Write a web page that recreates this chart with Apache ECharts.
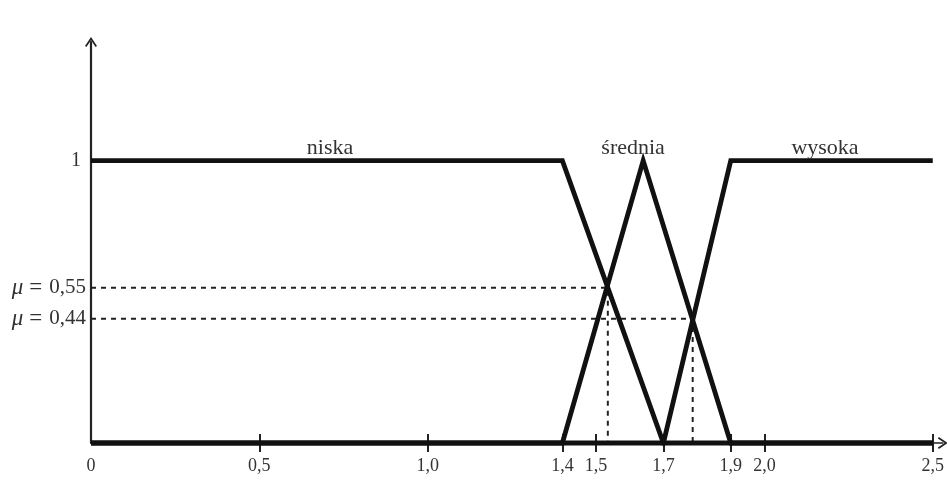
<!DOCTYPE html>
<html>
<head>
    <meta charset="utf-8">
    <title>Funkcje przynależności</title>
    <script src="https://cdn.jsdelivr.net/npm/echarts@6/dist/echarts.min.js"></script>
    <style>
        html, body { margin: 0; padding: 0; background: #fff; }
        #main { width: 947px; height: 481px; }
    </style>
</head>
<body>
<div id="main"></div>
<script type="text/javascript">
    // funkcje przynależności (x, mu)
    var niska = [[0, 1], [1.4, 1], [1.7, 0], [2.5, 0]];
    var srednia = [[0, 0], [1.4, 0], [1.64, 1], [1.9, 0], [2.5, 0]];
    var wysoka = [[0, 0], [1.7, 0], [1.9, 1], [2.5, 1]];

    // odczyty mu
    var cut055 = [[0, 0.55], [1.535, 0.55], [1.535, 0]];
    var cut044 = [[0, 0.44], [1.787, 0.44], [1.787, 0]];

    var xTicks = [0, 0.5, 1.0, 1.4, 1.5, 1.7, 1.9, 2.0, 2.5];
    var xTickMarks = [0.5, 1.0, 1.4, 1.5, 1.7, 1.9, 2.0, 2.5];
    var yTicks = [1, 0.55, 0.44];

    var setNames = ['niska', 'średnia', 'wysoka'];
    var setNameX = [0.71, 1.61, 2.18];

    var txt = '#333';
    var font = '"Liberation Serif", "DejaVu Serif", serif';
    // otwarta strzałka na końcu osi
    var arrowPath = 'path://M0,0 L6,9 L4.6,10 L0,3.2 L-4.6,10 L-6,9 Z';

    function fmtX(v) {
        if (v === 0) return '0';
        return v.toFixed(1).replace('.', ',');
    }

    function fmtY(v) {
        if (v === 1) return '{one|1}';
        return '{mu|μ}{eq|=}' + v.toFixed(2).replace('.', ',');
    }

    function lineSeries(data, idx) {
        return {
            type: 'line',
            data: data,
            symbol: 'none',
            clip: false,
            silent: true,
            lineStyle: { color: '#111', width: 4.8, join: 'miter', cap: 'butt' },
            markPoint: {
                symbol: 'circle',
                symbolSize: 0,
                silent: true,
                data: [{
                    coord: [setNameX[idx], 1],
                    label: {
                        show: true,
                        formatter: setNames[idx],
                        position: 'top',
                        distance: 1,
                        color: txt,
                        fontFamily: font,
                        fontSize: 22
                    }
                }]
            },
            z: 3
        };
    }

    function dashSeries(data) {
        return {
            type: 'line',
            data: data,
            symbol: 'none',
            clip: false,
            silent: true,
            lineStyle: { color: '#222', width: 2, type: [5, 5] },
            z: 2
        };
    }

    var myChart = echarts.init(document.getElementById('main'));

    var option = {
        animation: false,
        backgroundColor: '#fff',
        grid: { left: 91, right: 3, top: 42, bottom: 38 },
        xAxis: [
            {
                type: 'value',
                min: 0,
                max: 2.53,
                position: 'bottom',
                splitLine: { show: false },
                axisLine: {
                    show: true,
                    onZero: false,
                    symbol: ['none', arrowPath],
                    symbolSize: [12, 10],
                    lineStyle: { color: '#222', width: 1.5 }
                },
                axisTick: {
                    show: true,
                    customValues: xTickMarks,
                    length: 9,
                    lineStyle: { color: '#222', width: 2 }
                },
                axisLabel: {
                    customValues: xTicks,
                    formatter: fmtX,
                    color: txt,
                    fontFamily: font,
                    fontSize: 18,
                    margin: 14
                }
            },
            {
                type: 'value',
                min: 0,
                max: 2.53,
                position: 'bottom',
                splitLine: { show: false },
                axisLine: { show: false, onZero: false },
                axisTick: {
                    show: true,
                    inside: true,
                    customValues: xTickMarks,
                    length: 9,
                    lineStyle: { color: '#222', width: 2 }
                },
                axisLabel: { show: false }
            }
        ],
        yAxis: {
            type: 'value',
            min: 0,
            max: 1.42,
            splitLine: { show: false },
            axisLine: {
                show: true,
                onZero: false,
                symbol: ['none', arrowPath],
                symbolSize: [12, 10],
                lineStyle: { color: '#222', width: 2.2 }
            },
            axisTick: { show: false },
            axisLabel: {
                customValues: yTicks,
                formatter: fmtY,
                color: txt,
                fontFamily: font,
                fontSize: 21,
                margin: 5,
                rich: {
                    one: { fontFamily: font, fontSize: 20, color: txt, padding: [0, 5, 0, 0] },
                    mu: { fontStyle: 'italic', fontFamily: font, fontSize: 23, color: txt, padding: [0, 6, 0, 0] },
                    eq: { fontFamily: font, fontSize: 23, color: txt, padding: [0, 7, 0, 0] }
                }
            }
        },
        series: [
            dashSeries(cut055),
            dashSeries(cut044),
            lineSeries(niska, 0),
            lineSeries(srednia, 1),
            lineSeries(wysoka, 2)
        ]
    };

    myChart.setOption(option);
</script>
</body>
</html>
